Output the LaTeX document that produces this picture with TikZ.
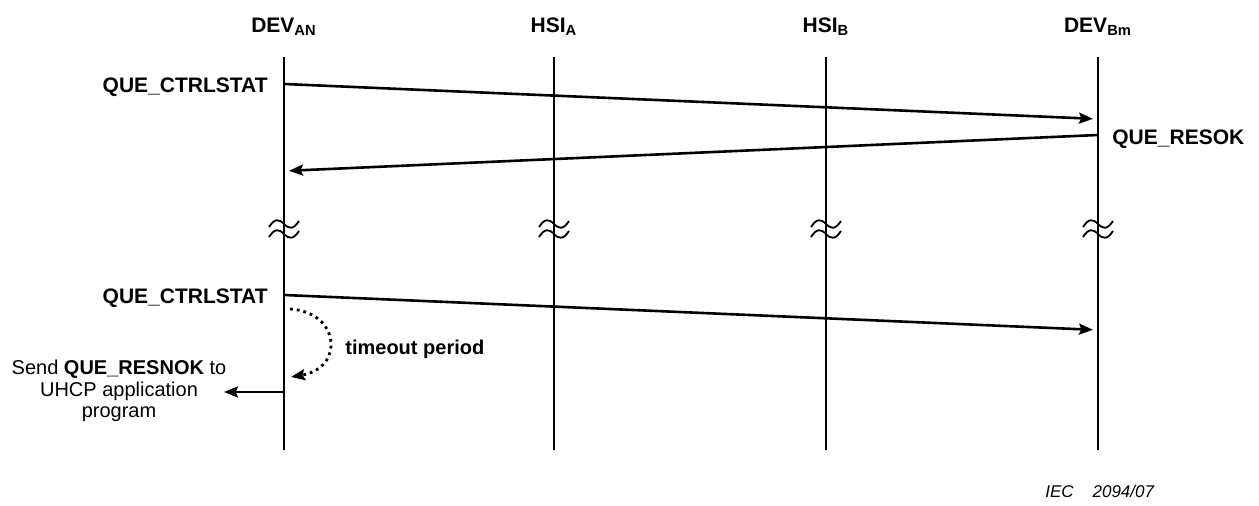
\documentclass[tikz,border=0pt]{standalone}
\usepackage{fontspec}
\setmainfont{Liberation Sans}
\usetikzlibrary{arrows.meta}
\tikzset{
  lifeline/.style={line width=1pt},
  msg/.style={line width=1.3pt,-{Stealth[length=7pt,width=5.5pt,inset=1.2pt]},shorten >=2.5pt},
  lbl/.style={font=\fontsize{10}{12}\selectfont\bfseries,inner sep=0pt},
  qlbl/.style={font=\fontsize{10.5}{12}\selectfont\bfseries,inner sep=0pt},
  hdr/.style={font=\fontsize{10.5}{12}\selectfont\bfseries,inner sep=0pt},
  brk/.style={line width=0.9pt},
  tmo/.style={line width=1.4pt,dotted,-{Stealth[length=7pt,width=5.5pt,inset=1.2pt]}},
}
\newcommand{\brkmark}[2]{%
  \draw[brk] (#1-15,#2+3) .. controls (#1-9,#2-6) and (#1-5,#2-5) .. (#1,#2) .. controls (#1+5,#2+5) and (#1+9,#2+6) .. (#1+15,#2-3);%
}
\begin{document}
\begin{tikzpicture}[x=0.5pt,y=-0.5pt]
\useasboundingbox (0,0) rectangle (1259,506);
% headers
\node[hdr] (hA) at (284,27) {DEV\textsubscript{AN}};
\node[hdr] (hB) at (554,27) {HSI\textsubscript{A}};
\node[hdr] (hC) at (826,27) {HSI\textsubscript{B}};
\node[hdr] (hD) at (1098,27) {DEV\textsubscript{Bm}};
% lifelines
\foreach \n/\x in {A/284,B/554,C/826,D/1098}{
  \coordinate (t\n) at (\x,57);
  \coordinate (b\n) at (\x,450);
  \draw[lifeline] (t\n) -- (b\n);
  \brkmark{\x}{224}
  \brkmark{\x}{234}
}
% messages
\coordinate (m1s) at (284,84);
\coordinate (m1e) at (1098,119);
\draw[msg] (m1s) -- (m1e);
\node[qlbl,anchor=east] (l1) at (268,87) {QUE\_CTRLSTAT};
\coordinate (m2s) at (1098,135);
\coordinate (m2e) at (284,171);
\draw[msg] (m2s) -- (m2e);
\node[qlbl,anchor=west] (l2) at (1112,139) {QUE\_RESOK};
\coordinate (m3s) at (284,295);
\coordinate (m3e) at (1098,330);
\draw[msg] (m3s) -- (m3e);
\node[qlbl,anchor=east] (l3) at (268,298) {QUE\_CTRLSTAT};
% timeout
\coordinate (ts) at (290,309);
\coordinate (te) at (291,377);
\draw[tmo] (ts) .. controls (340,312) and (345,368) .. (te);
\node[lbl,anchor=west] (l4) at (345,349) {timeout period};
% send
\coordinate (ss) at (284,392);
\node[font=\fontsize{10}{10.75}\selectfont,align=center,inner sep=0pt] (snd) at (119,391)
  {Send \textbf{QUE\_RESNOK} to\\UHCP application\\program};
\coordinate (se) at (224,392);
\draw[msg,shorten >=0pt] (ss) -- (se);
% footer
\node[font=\fontsize{8.5}{10}\selectfont\itshape,anchor=west,inner sep=0pt] (iec) at (1045,491) {IEC\ \ \ \ 2094/07};
\end{tikzpicture}
\end{document}
